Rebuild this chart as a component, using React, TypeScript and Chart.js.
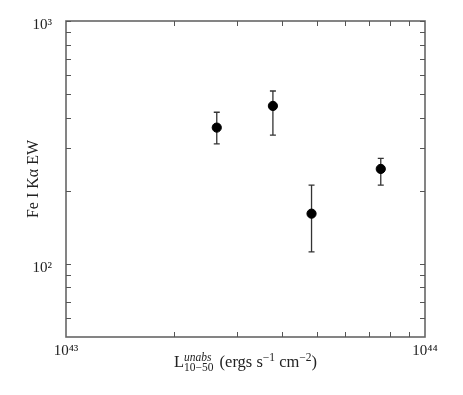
import React, { useEffect, useRef } from "react";
import { Chart, registerables } from "chart.js";

Chart.register(...registerables);

// Data
const luminosity = [2.63e43, 3.77e43, 4.83e43, 7.53e43];
const ewValue = [364, 447, 161, 246];
const ewUpper = [421, 515, 211, 272];
const ewLower = [312, 339, 112, 211];

const xTickValues = [1e43, 1e44];
const xTickLabels = ["10⁴³", "10⁴⁴"];
const yTickValues = [100, 1000];
const yTickLabels = ["10²", "10³"];
const xMinorTicks = [2e43, 3e43, 4e43, 5e43, 6e43, 7e43, 8e43, 9e43];
const yMinorTicks = [60, 70, 80, 90, 200, 300, 400, 500, 600, 700, 800, 900];

const yTitle = "Fe I Kα EW";

const SERIF = "'Liberation Serif', 'DejaVu Serif', serif";

const decorPlugin = {
  id: "decor",
  beforeDatasetsDraw(chart: any) {
    const ctx = chart.ctx;
    const x = chart.scales.x;
    const y = chart.scales.y;
    ctx.save();
    // error bars
    ctx.strokeStyle = "#333";
    ctx.lineWidth = 1.3;
    for (let i = 0; i < luminosity.length; i++) {
      const px = x.getPixelForValue(luminosity[i]);
      const yh = y.getPixelForValue(ewUpper[i]);
      const yl = y.getPixelForValue(ewLower[i]);
      ctx.beginPath();
      ctx.moveTo(px, yh);
      ctx.lineTo(px, yl);
      ctx.moveTo(px - 3, yh);
      ctx.lineTo(px + 3, yh);
      ctx.moveTo(px - 3, yl);
      ctx.lineTo(px + 3, yl);
      ctx.stroke();
    }
    ctx.restore();
  },
  afterDraw(chart: any) {
    const ctx = chart.ctx;
    const x = chart.scales.x;
    const y = chart.scales.y;
    const { left, right, top, bottom } = chart.chartArea;
    ctx.save();
    // frame
    ctx.strokeStyle = "#666";
    ctx.lineWidth = 1.6;
    ctx.strokeRect(left, top, right - left, bottom - top);
    // ticks
    ctx.lineWidth = 1;
    ctx.strokeStyle = "#555";
    ctx.beginPath();
    const tl = 5;
    for (const v of xMinorTicks) {
      const px = Math.round(x.getPixelForValue(v)) + 0.5;
      ctx.moveTo(px, bottom);
      ctx.lineTo(px, bottom - tl);
      ctx.moveTo(px, top);
      ctx.lineTo(px, top + tl);
    }
    for (const v of [...yMinorTicks, ...yTickValues]) {
      const py = Math.round(y.getPixelForValue(v)) + 0.5;
      ctx.moveTo(left, py);
      ctx.lineTo(left + tl, py);
      ctx.moveTo(right, py);
      ctx.lineTo(right - tl, py);
    }
    ctx.stroke();

    // y title
    ctx.fillStyle = "#222";
    ctx.font = `16px ${SERIF}`;
    ctx.textAlign = "center";
    ctx.textBaseline = "middle";
    ctx.save();
    ctx.translate(34, (top + bottom) / 2);
    ctx.rotate(-Math.PI / 2);
    ctx.fillText(yTitle, 0, 0);
    ctx.restore();

    // x title with sub/superscripts
    const big = `16.5px ${SERIF}`;
    const small = `11.5px ${SERIF}`;
    const smallIt = `italic 11.5px ${SERIF}`;
    ctx.textAlign = "left";
    ctx.textBaseline = "alphabetic";
    const measure = (t: string, f: string) => {
      ctx.font = f;
      return ctx.measureText(t).width;
    };
    const parts: { draw: (x0: number, base: number) => void; w: number }[] = [];
    const add = (t: string, f: string, dy: number) => {
      const w = measure(t, f);
      parts.push({
        w,
        draw: (x0, base) => {
          ctx.font = f;
          ctx.fillText(t, x0, base + dy);
        },
      });
    };
    add("L", big, 0);
    {
      const wSup = measure("unabs", smallIt);
      const wSub = measure("10−50", small);
      parts.push({
        w: Math.max(wSup, wSub) + 2,
        draw: (x0, base) => {
          ctx.font = smallIt;
          ctx.fillText("unabs", x0, base - 6);
          ctx.font = small;
          ctx.fillText("10−50", x0, base + 4);
        },
      });
    }
    add(" (ergs s", big, 0);
    add("−1", small, -6);
    add(" cm", big, 0);
    add("−2", small, -6);
    add(")", big, 0);
    const total = parts.reduce((s, p) => s + p.w, 0);
    let cx = (left + right) / 2 - total / 2;
    const base = 367;
    for (const p of parts) {
      p.draw(cx, base);
      cx += p.w;
    }
    ctx.restore();
  },
};

export default function App() {
  const canvasRef = useRef<HTMLCanvasElement | null>(null);

  useEffect(() => {
    document.body.style.margin = "0";
    const canvas = canvasRef.current;
    if (!canvas) return;
    const chart = new Chart(canvas, {
      type: "scatter",
      data: {
        datasets: [
          {
            label: "Fe I Kα EW",
            data: luminosity.map((l, i) => ({ x: l, y: ewValue[i] })),
            backgroundColor: "#000",
            borderColor: "#000",
            pointRadius: 4.6,
            pointHoverRadius: 4.6,
          },
        ],
      },
      options: {
        responsive: false,
        animation: false,
        devicePixelRatio: 1,
        layout: { padding: { left: 0, right: 38, top: 21, bottom: 0 } },
        plugins: {
          legend: { display: false },
          tooltip: { enabled: false },
        },
        scales: {
          x: {
            type: "logarithmic",
            min: 1e43,
            max: 1e44,
            grid: { display: false },
            border: { display: false },
            afterBuildTicks: (s: any) => {
              s.ticks = xTickValues.map((v) => ({ value: v }));
            },
            afterFit: (s: any) => {
              s.height = 58;
            },
            ticks: {
              autoSkip: false,
              maxRotation: 0,
              padding: -3,
              color: "#222",
              font: { family: SERIF, size: 15 },
              callback: (v: any) => {
                const idx = xTickValues.indexOf(Number(v));
                return idx >= 0 ? xTickLabels[idx] : "";
              },
            },
          },
          y: {
            type: "logarithmic",
            min: 50,
            max: 1000,
            grid: { display: false },
            border: { display: false },
            afterBuildTicks: (s: any) => {
              s.ticks = yTickValues.map((v) => ({ value: v }));
            },
            afterFit: (s: any) => {
              s.width = 66;
            },
            ticks: {
              autoSkip: false,
              padding: 6,
              labelOffset: 4,
              color: "#222",
              font: { family: SERIF, size: 15 },
              callback: (v: any) => {
                const idx = yTickValues.indexOf(Number(v));
                return idx >= 0 ? yTickLabels[idx] : "";
              },
            },
          },
        },
      },
      plugins: [decorPlugin],
    });
    return () => chart.destroy();
  }, []);

  return (
    <div style={{ width: 463, height: 395, background: "#fff" }}>
      <canvas ref={canvasRef} width={463} height={395} style={{ display: "block" }} />
    </div>
  );
}
